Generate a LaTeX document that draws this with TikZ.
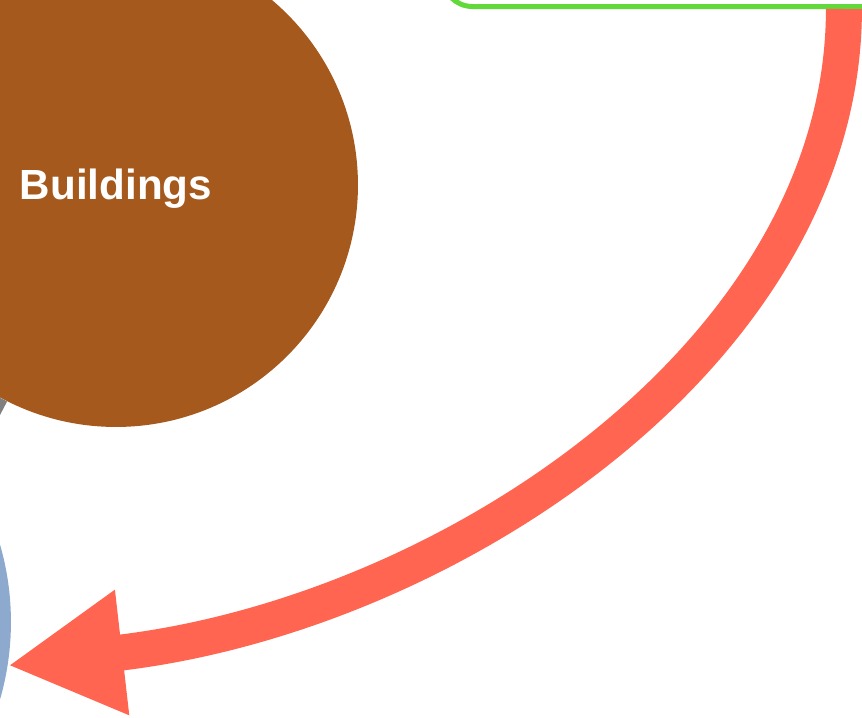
\documentclass[tikz,border=0pt]{standalone}
\usepackage{fontspec}
\setmainfont{Liberation Sans}
\usepackage{xcolor}
\usetikzlibrary{arrows.meta,calc,positioning}
\definecolor{brownfill}{HTML}{A5591C}
\definecolor{linkred}{HTML}{FF6550}
\definecolor{boxgreen}{HTML}{62D93A}
\definecolor{bluefill}{HTML}{8DAACE}
\tikzset{
  topic/.style={circle,inner sep=0pt,text=white,font=\fontsize{24}{28}\selectfont\bfseries},
  link/.style={line width=0.72cm,draw=linkred,-{Triangle[length=2.3cm,width=2.35cm]}}
}

\begin{document}
\begin{tikzpicture}[x=0.02cm,y=-0.02cm]
  \useasboundingbox (0,0) rectangle (862,717);
  \clip (0,0) rectangle (862,717);
  \coordinate (offgrey) at (-70,540);
  \node[topic,fill=bluefill,minimum size=11.12cm] (blue) at (-267,622) {};
  \node[topic,fill=brownfill,minimum size=9.68cm,text depth=0.04cm] (buildings) at (116,185) {Buildings};
  \draw[gray,line width=0.16cm] (offgrey) -- (buildings);
  \node[draw=boxgreen,fill=white,line width=0.1cm,rounded corners=0.6cm,
        minimum width=10cm,minimum height=4cm,anchor=south west] (box) at (440,9) {};
  \draw[link] ([xshift=8.08cm]box.south west) .. controls (844,350) and (450,615) .. (blue.351);
\end{tikzpicture}
\end{document}
